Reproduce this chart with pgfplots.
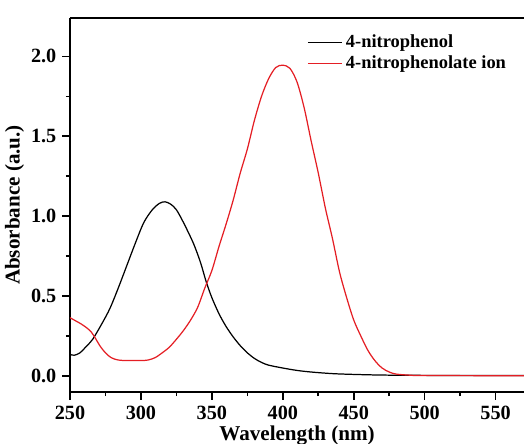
\documentclass[border=0pt]{standalone}
\usepackage{fontspec}
\setmainfont{Liberation Serif}
\usepackage{pgfplots}
\pgfplotsset{compat=1.18}
\definecolor{ionred}{RGB}{228,30,36}

\begin{document}
\begin{tikzpicture}
\begin{axis}[
    width=9.08cm, height=7.48cm, scale only axis,
    xmin=250, xmax=570, ymin=-0.1, ymax=2.24,
    axis x line*=box, axis y line*=left,
    xtick={250,300,...,550}, ytick={0,0.5,...,2.0},
    minor x tick num=1, minor y tick num=1,
    xtick pos=bottom, ytick pos=left,
    tick align=outside,
    major tick length=0.15cm, minor tick length=0.08cm,
    axis line style={line width=1.1pt},
    every tick/.style={black, line width=0.9pt},
    /pgf/number format/assume math mode=true,
    yticklabel style={/pgf/number format/.cd, fixed, fixed zerofill, precision=1},
    tick label style={font=\fontsize{11.5}{12}\selectfont\bfseries},
    label style={font=\fontsize{12}{13}\selectfont\bfseries},
    xlabel={Wavelength (nm)},
    ylabel={Absorbance (a.u.)},
    xlabel style={yshift=3pt},
    ylabel style={yshift=-3pt},
    legend style={draw=none, fill=none, at={(0.51,0.975)}, anchor=north west,
        font=\fontsize{10.5}{12}\selectfont\bfseries, row sep=-1pt},
    legend cell align=left,
    legend image code/.code={\draw[#1] (0cm,0cm) -- (0.68cm,0cm);},
]
\addplot[black, line width=0.7pt, smooth] coordinates {
(250,0.135) (253,0.13) (257,0.145) (262,0.19) (266,0.23) (272,0.32)
(278,0.42) (284,0.55) (290,0.69) (296,0.83) (302,0.96) (308,1.04)
(313,1.08) (317,1.09) (321,1.075) (325,1.04) (330,0.96) (337,0.83)
(342,0.71) (346,0.59) (350,0.49) (355,0.39) (360,0.31) (365,0.245)
(370,0.19) (375,0.145) (380,0.11) (385,0.085) (390,0.068) (400,0.05)
(410,0.035) (420,0.025) (435,0.015) (450,0.01) (470,0.006) (500,0.004)
(570,0.003)};
\addlegendentry{4-nitrophenol}
\addplot[ionred, line width=0.7pt, smooth] coordinates {
(250,0.365) (254,0.345) (258,0.325) (262,0.30) (265,0.275) (268,0.235)
(271,0.19) (275,0.145) (279,0.115) (284,0.10) (290,0.097) (300,0.097)
(305,0.10) (310,0.115) (315,0.145) (320,0.18) (325,0.23) (330,0.285)
(335,0.35) (340,0.43) (345,0.55) (350,0.66) (355,0.81) (360,0.95)
(365,1.10) (370,1.27) (375,1.42) (380,1.60) (385,1.75) (390,1.86)
(395,1.93) (400,1.945) (405,1.925) (410,1.84) (415,1.68) (420,1.47)
(425,1.27) (430,1.05) (435,0.86) (440,0.65) (445,0.49) (450,0.35)
(455,0.25) (460,0.16) (465,0.095) (470,0.05) (475,0.025) (480,0.012)
(490,0.005) (500,0.003) (570,0.002)};
\addlegendentry{4-nitrophenolate ion}
\end{axis}
\pgfresetboundingbox
\path[use as bounding box] (-1.4cm,-1.02cm) rectangle (9.08cm,7.84cm);
\end{tikzpicture}
\end{document}
